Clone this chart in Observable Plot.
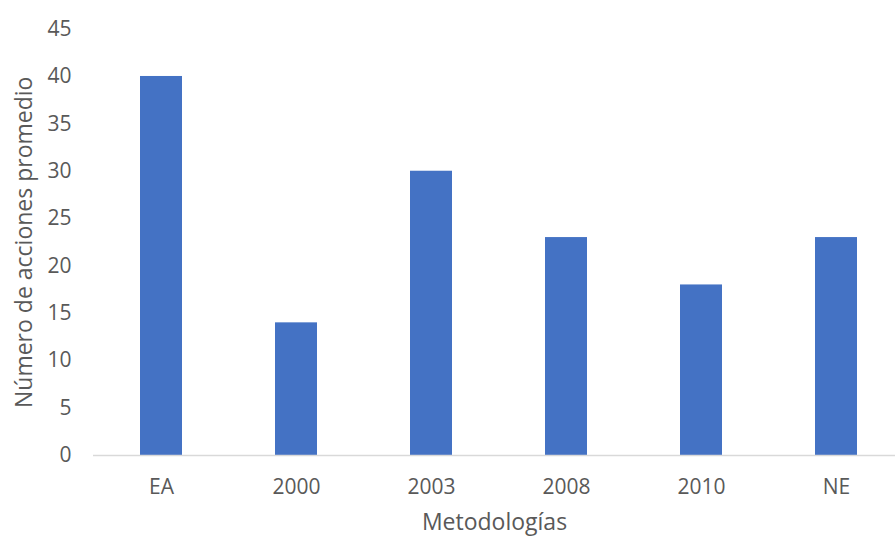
<!DOCTYPE html>
<html>
<head>
<meta charset="utf-8">
<script src="https://cdn.jsdelivr.net/npm/d3@7"></script>
<script src="https://cdn.jsdelivr.net/npm/@observablehq/plot@0.6"></script>
<style>
  html, body { margin: 0; padding: 0; background: #fff; }
  #chart svg { display: block; }
</style>
</head>
<body>
<div id="chart"></div>
<script>
const categories = ["EA", "2000", "2003", "2008", "2010", "NE"];
const values = [40, 14, 30, 23, 18, 23];
const yTicks = [0, 5, 10, 15, 20, 25, 30, 35, 40, 45];

const data = categories.map((c, i) => ({ cat: c, val: values[i] }));

const chart = Plot.plot({
  width: 895,
  height: 537,
  marginLeft: 93,
  marginRight: 0,
  marginTop: 28.6,
  marginBottom: 82,
  style: { fontFamily: "'Open Sans', sans-serif", fontSize: "21px", color: "#595959", background: "#fff" },
  x: { domain: categories, range: [93.5, 903.5], paddingInner: 0.69, paddingOuter: 0.345, align: 0.5 },
  y: { domain: [0, 45], range: [455, 28.6] },
  marks: [
    Plot.barY(data, { x: "cat", y: "val", fill: "#4472c4" }),
    Plot.ruleY([0], { stroke: "#d9d9d9", strokeWidth: 1.5 }),
    Plot.axisY(yTicks, {
      tickSize: 0, tickPadding: 22, fontSize: 21, fill: "#595959",
      label: null
    }),
    Plot.axisY({
      ticks: [], tickSize: 0, fontSize: 23, fill: "#595959",
      label: "Número de acciones promedio", labelAnchor: "center", labelArrow: "none", labelOffset: 78
    }),
    Plot.axisX({
      tickSize: 0, tickPadding: 24, fontSize: 21, fill: "#595959",
      label: null
    }),
    Plot.axisX({
      ticks: [], tickSize: 0, fontSize: 23, fill: "#595959",
      label: "Metodologías", labelAnchor: "center", labelArrow: "none", labelOffset: 74
    })
  ]
});
document.getElementById("chart").appendChild(chart);
</script>
</body>
</html>
